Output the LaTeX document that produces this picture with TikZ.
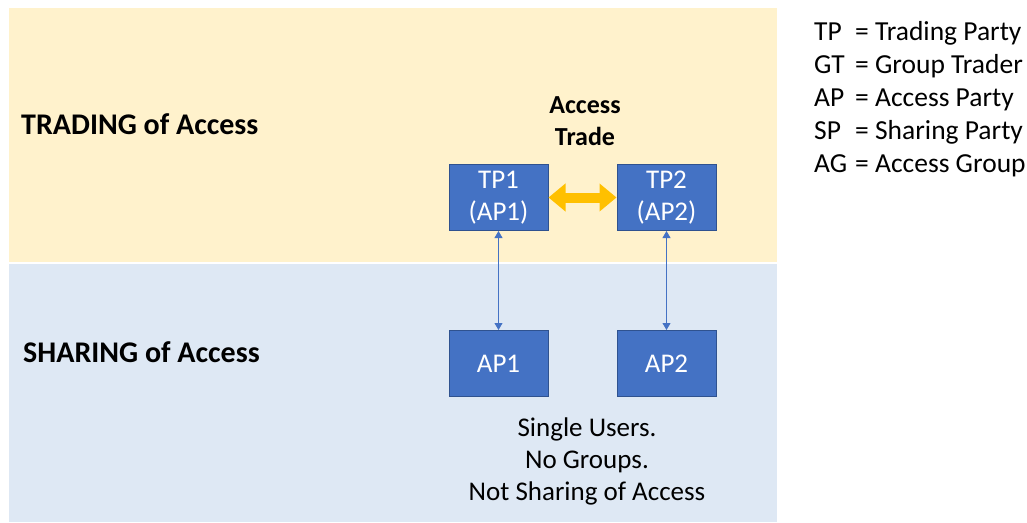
\documentclass[tikz,border=0pt]{standalone}
\usepackage{fontspec}
\setmainfont{Carlito}
\usetikzlibrary{arrows.meta}

\definecolor{tradebg}{HTML}{FFF2CC}
\definecolor{sharebg}{HTML}{DEE8F4}
\definecolor{boxfill}{HTML}{4472C4}
\definecolor{boxedge}{HTML}{2F528F}
\definecolor{linkblue}{HTML}{4472C4}
\definecolor{tradegold}{HTML}{FFC000}

\tikzset{
  party/.style={draw=boxedge, fill=boxfill, text=white, line width=1pt,
    minimum width=99pt, minimum height=66pt, inner sep=0pt, align=center,
    font=\fontsize{27}{32}\selectfont},
  bandtitle/.style={anchor=base west, inner sep=0pt,
    font=\fontsize{30}{36}\selectfont\bfseries},
  plain/.style={inner sep=0pt, align=center, font=\fontsize{26}{32}\selectfont},
  legendrow/.style={anchor=base west, inner sep=0pt, font=\fontsize{27.5}{33}\selectfont},
  link/.style={draw=linkblue, line width=0.8pt,
    {Triangle[length=7pt,width=8pt]}-{Triangle[length=7pt,width=8pt]}},
  tradearrow/.style={draw=tradegold, line width=10pt,
    {Triangle[length=17pt,width=27pt]}-{Triangle[length=17pt,width=27pt]}}
}

\begin{document}
\begin{tikzpicture}[x=1pt, y=-1pt]
\useasboundingbox (0,0) rectangle (1027,522);

% background bands
\fill[tradebg] (9,8) rectangle (777,262);
\fill[sharebg] (9,264) rectangle (777,522);

% band titles
\node[bandtitle] (tradingtitle) at (21,134) {TRADING of Access};
\node[bandtitle] (sharingtitle) at (23,362) {SHARING of Access};

% parties
\node[party] (tp1) at (498.5,197.5) {TP1\\(AP1)};
\node[party] (tp2) at (666.5,197.5) {TP2\\(AP2)};
\node[party] (ap1) at (498.5,363.5) {AP1};
\node[party] (ap2) at (666.5,363.5) {AP2};

% trade label and arrow
\node[plain, font=\fontsize{26}{32}\selectfont\bfseries] (tradelabel) at (585,121) {Access\\Trade};
\draw[tradearrow] (tp1.east) -- (tp2.west);

% sharing links
\draw[link] (tp1.south) -- (ap1.north);
\draw[link] (tp2.south) -- (ap2.north);

% note below
\node[plain, font=\fontsize{27}{32}\selectfont] (note) at (587,461)
  {Single Users.\\No Groups.\\Not Sharing of Access};

% legend
\foreach \abbr/\full [count=\i] in {TP/Trading Party, GT/Group Trader,
    AP/Access Party, SP/Sharing Party, AG/Access Group} {
  \node[legendrow] (abbr\i) at (814,{7+33*\i}) {\abbr};
  \node[legendrow] (full\i) at (855,{7+33*\i}) {= \full};
}
\end{tikzpicture}
\end{document}
